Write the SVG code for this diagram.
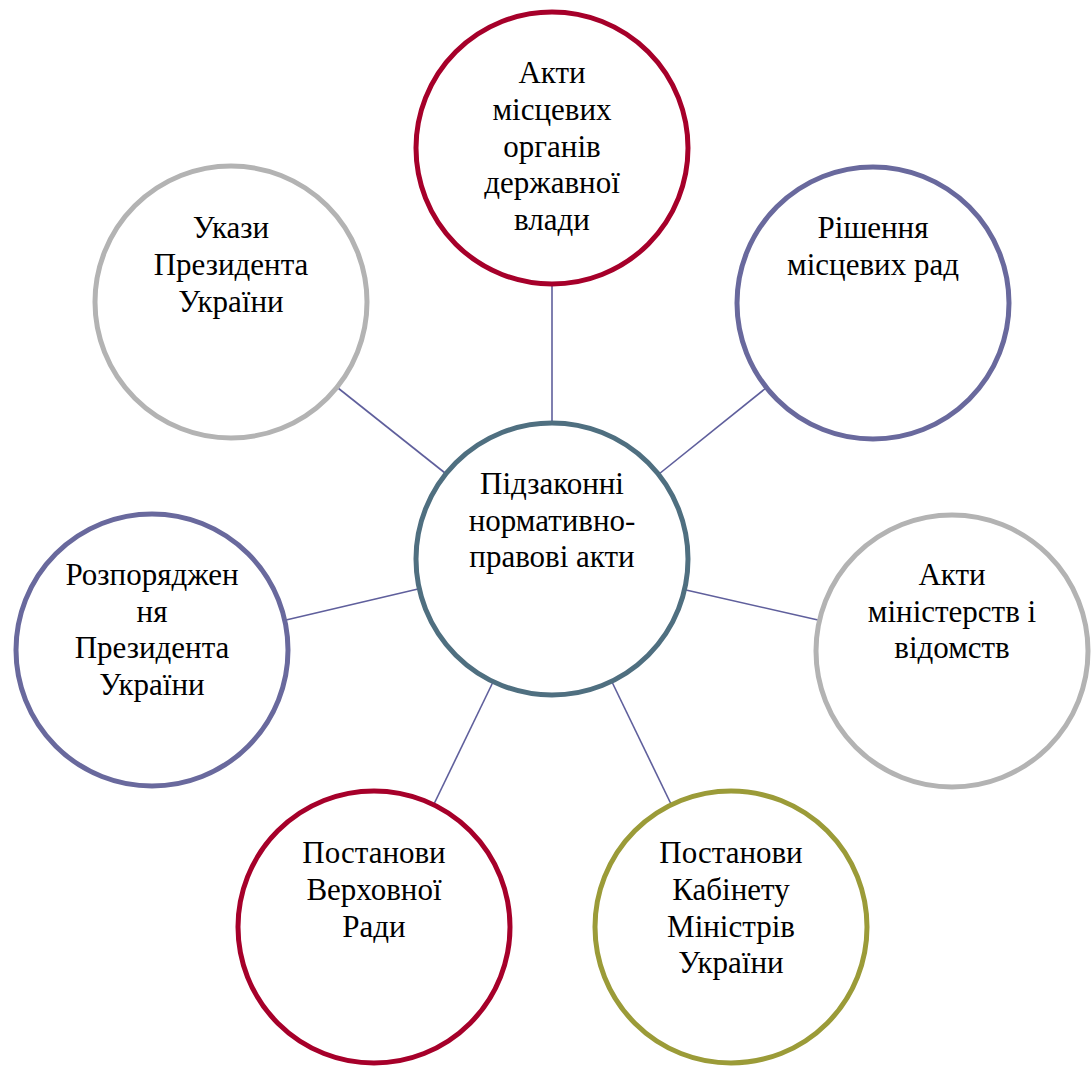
<svg xmlns="http://www.w3.org/2000/svg" width="1092" height="1070" viewBox="0 0 1092 1070">
<style>
.n{fill:#ffffff;stroke-width:5}
.red{stroke:#A6002A}
.pur{stroke:#69699D}
.gry{stroke:#B3B3B3}
.olv{stroke:#9B9B38}
.ctr{stroke:#4F6F80}
text{font-family:"Liberation Serif","Times New Roman",serif;font-size:31px;fill:#000;text-anchor:middle}
.c line{stroke:#5F5F9C;stroke-width:1.6}
</style>
<rect width="1092" height="1070" fill="#ffffff"/>
<g id="connectors" class="c">
<line x1="552" y1="422" x2="552" y2="285"/>
<line x1="445" y1="473" x2="338" y2="388"/>
<line x1="659" y1="474" x2="766" y2="388"/>
<line x1="418" y1="589" x2="286" y2="620"/>
<line x1="686" y1="590" x2="818" y2="620"/>
<line x1="493" y1="682" x2="434" y2="804"/>
<line x1="612" y1="682" x2="671" y2="804"/>
</g>
<g id="center">
<circle class="n ctr" cx="552" cy="559" r="136"/>
<text x="552" y="494">Підзаконні</text>
<text x="552" y="531">нормативно-</text>
<text x="552" y="567">правові акти</text>
</g>
<g id="top">
<circle class="n red" cx="552" cy="148" r="136"/>
<text x="552" y="83">Акти</text>
<text x="552" y="120">місцевих</text>
<text x="552" y="157">органів</text>
<text x="552" y="193">державної</text>
<text x="552" y="230">влади</text>
</g>
<g id="top-right">
<circle class="n pur" cx="873" cy="303" r="136"/>
<text x="873" y="238">Рішення</text>
<text x="873" y="275">місцевих рад</text>
</g>
<g id="right">
<circle class="n gry" cx="952" cy="651" r="136"/>
<text x="952" y="585">Акти</text>
<text x="952" y="622">міністерств і</text>
<text x="952" y="658">відомств</text>
</g>
<g id="bottom-right">
<circle class="n olv" cx="731" cy="927" r="136"/>
<text x="731" y="863">Постанови</text>
<text x="731" y="900">Кабінету</text>
<text x="731" y="937">Міністрів</text>
<text x="731" y="973">України</text>
</g>
<g id="bottom-left">
<circle class="n red" cx="374" cy="927" r="136"/>
<text x="374" y="863">Постанови</text>
<text x="374" y="900">Верховної</text>
<text x="374" y="937">Ради</text>
</g>
<g id="left">
<circle class="n pur" cx="152" cy="650" r="136"/>
<text x="152" y="585">Розпоряджен</text>
<text x="152" y="622">ня</text>
<text x="152" y="658">Президента</text>
<text x="152" y="695">України</text>
</g>
<g id="top-left">
<circle class="n gry" cx="231" cy="302" r="136"/>
<text x="231" y="238">Укази</text>
<text x="231" y="275">Президента</text>
<text x="231" y="312">України</text>
</g>
</svg>
